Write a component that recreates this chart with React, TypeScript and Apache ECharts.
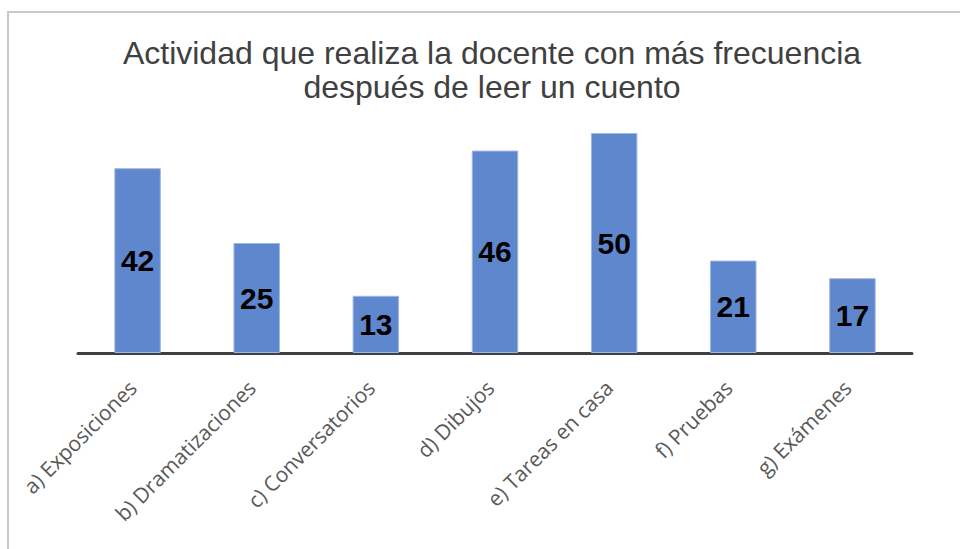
import React, { useEffect, useRef } from "react";
import * as echarts from "echarts";

const categories = [
  "a) Exposiciones",
  "b) Dramatizaciones",
  "c) Conversatorios",
  "d) Dibujos",
  "e) Tareas en casa",
  "f) Pruebas",
  "g) Exámenes",
];
const values = [42, 25, 13, 46, 50, 21, 17];
const titleText = "Actividad que realiza la docente con más frecuencia\ndespués de leer un cuento";

export default function App() {
  const ref = useRef<HTMLDivElement>(null);
  useEffect(() => {
    if (!ref.current) return;
    const chart = echarts.init(ref.current, null, { renderer: "svg" });
    chart.setOption({
      animation: false,
      backgroundColor: "#ffffff",
      graphic: [
        {
          type: "rect",
          shape: { x: 8, y: 12, width: 1000, height: 600 },
          style: { fill: "none", stroke: "#c8c8c8", lineWidth: 2 },
          silent: true,
        },
      ],
      title: {
        text: titleText,
        left: 487,
        textAlign: "center",
        top: 31,
        textStyle: {
          fontFamily: "Liberation Sans, Arial, sans-serif",
          fontSize: 32,
          fontWeight: "normal",
          color: "#404040",
          lineHeight: 34,
        },
      },
      grid: { left: 78, right: 48, top: 133, bottom: 196, containLabel: false },
      xAxis: {
        type: "category",
        data: categories,
        axisLine: { show: true, lineStyle: { color: "#404040", width: 3 } },
        axisTick: { show: false },
        axisLabel: {
          rotate: 45,
          interval: 0,
          margin: 26,
          padding: [0, 7, 0, 0],
          fontSize: 21,
          fontFamily: "Open Sans, Noto Sans, sans-serif",
          color: "#595959",
        },
      },
      yAxis: {
        type: "value",
        min: 0,
        max: 50,
        show: false,
        splitLine: { show: false },
      },
      series: [
        {
          type: "bar",
          data: values,
          barWidth: "39%",
          itemStyle: { color: "#5F87CD", borderColor: "#9db6e3", borderWidth: 1 },
          label: {
            show: true,
            position: "inside",
            fontSize: 30,
            fontWeight: "bold",
            fontFamily: "Liberation Sans, Arial, sans-serif",
            color: "#000000",
          },
        },
      ],
    });
    return () => chart.dispose();
  }, []);
  return (
    <div
      ref={ref}
      style={{ position: "fixed", left: 0, top: 0, width: 960, height: 549 }}
    />
  );
}
